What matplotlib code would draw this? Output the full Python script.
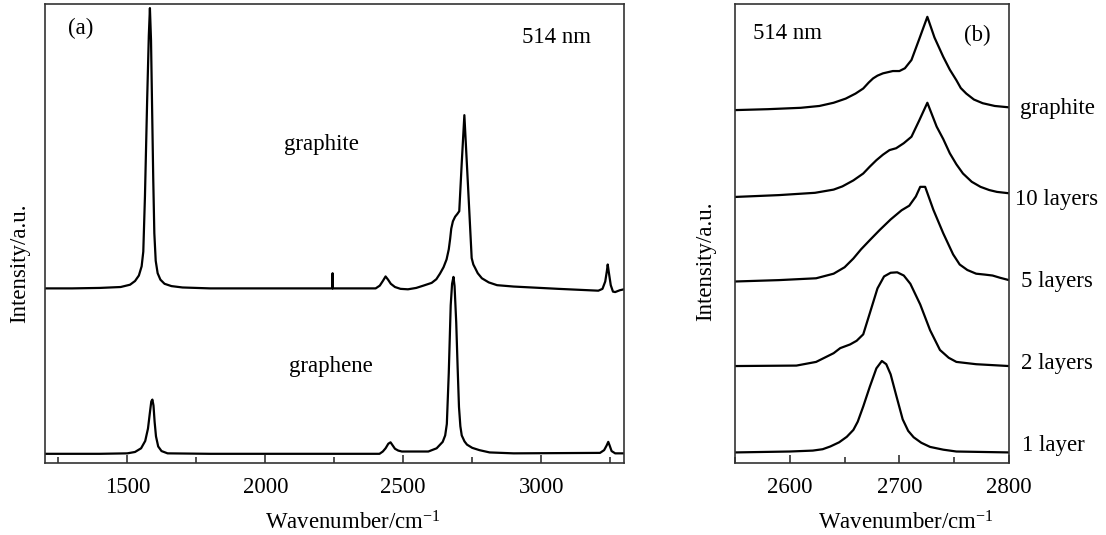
import matplotlib
matplotlib.use("Agg")
import matplotlib.pyplot as plt
from matplotlib.ticker import MultipleLocator

plt.rcParams['font.family'] = ['Liberation Serif', 'DejaVu Serif']
plt.rcParams['mathtext.fontset'] = 'custom'
plt.rcParams['mathtext.rm'] = 'Liberation Serif'
plt.rcParams['mathtext.it'] = 'Liberation Serif:italic'

# ---------------- Panel (a) data ----------------
graphite_a_x = [1200, 1300, 1400, 1476, 1510, 1528, 1542, 1552, 1558, 1564, 1572, 1578, 1582,
                1586, 1590, 1594, 1598, 1603, 1610, 1620, 1635, 1660, 1700, 1800, 2000,
                2243.5, 2244, 2244.5, 2400, 2415, 2427, 2436, 2445, 2455, 2470, 2490, 2517,
                2547, 2573, 2603, 2620, 2633, 2646, 2657, 2665, 2670, 2674, 2680, 2688, 2696,
                2703, 2712, 2721.5, 2735, 2748, 2754, 2760, 2770, 2785, 2810, 2840, 2900,
                3062, 3207, 3222, 3232, 3238, 3241, 3245, 3252, 3260, 3268, 3285, 3300]
graphite_a_y = [38.0, 38.0, 38.1, 38.3, 38.8, 39.6, 40.8, 42.8, 46.0, 58.0, 79.0, 93.0, 99.0,
                92.0, 77.0, 62.0, 50.0, 44.0, 41.3, 39.9, 39.0, 38.5, 38.2, 38.0, 38.0,
                38.0, 41.3, 38.0, 38.0, 38.6, 39.7, 40.6, 39.9, 39.0, 38.3, 37.9, 37.8,
                38.1, 38.6, 39.2, 40.0, 41.2, 42.6, 44.3, 46.5, 48.8, 51.0, 52.6, 53.6, 54.2,
                54.8, 65.3, 75.7, 60.0, 44.6, 43.2, 42.5, 41.3, 40.2, 39.3, 38.7, 38.4,
                37.9, 37.5, 37.9, 39.5, 41.8, 43.2, 41.5, 38.7, 37.3, 37.2, 37.6, 37.8]

graphene_a_x = [1200, 1400, 1500, 1528, 1550, 1565, 1575, 1582, 1587, 1591, 1595, 1599, 1604,
                1612, 1624, 1646, 1800, 2414, 2426, 2436, 2446, 2454, 2462, 2470, 2482, 2495,
                2591, 2621, 2643, 2652, 2658, 2665, 2672, 2677, 2682, 2686, 2692, 2697, 2702,
                2707, 2712, 2722, 2731, 2750, 2776, 2813, 2900, 3213, 3228, 3237, 3243, 3248,
                3255, 3268, 3300]
graphene_a_y = [2.0, 2.0, 2.1, 2.4, 3.2, 4.8, 7.5, 11.0, 13.4, 13.8, 12.5, 9.0, 5.8,
                3.6, 2.6, 2.1, 2.0, 2.0, 2.5, 3.2, 4.2, 4.5, 3.8, 3.1, 2.7, 2.5,
                2.5, 3.2, 4.6, 6.0, 8.5, 19.6, 34.3, 39.0, 40.5, 38.5, 30.6, 21.0, 12.2,
                8.0, 6.0, 4.7, 4.0, 3.3, 2.8, 2.3, 2.1, 2.2, 2.8, 3.8, 4.6, 3.8,
                2.6, 2.1, 2.1]

# ---------------- Panel (b) data ----------------
graphite_b_x = [2550, 2580, 2610, 2627, 2640, 2651, 2660, 2667, 2672, 2676, 2680, 2685, 2694,
                2700, 2705, 2711, 2718, 2725.5, 2732, 2740, 2746, 2752, 2756, 2761, 2768,
                2776, 2787, 2800]
graphite_b_y = [76.8, 77.0, 77.3, 77.7, 78.4, 79.3, 80.4, 81.5, 82.8, 83.7, 84.3, 84.8, 85.3,
                85.3, 85.9, 87.7, 92.2, 97.1, 92.6, 88.4, 85.6, 83.3, 81.6, 80.4, 79.1,
                78.3, 77.7, 77.4]

layers10_b_x = [2550, 2590, 2623, 2640, 2648, 2658, 2667, 2673, 2679, 2685, 2691, 2697, 2704,
                2711, 2718, 2725.5, 2734, 2740, 2746, 2752, 2758, 2766, 2774, 2782, 2789, 2800]
layers10_b_y = [57.9, 58.3, 58.8, 59.5, 60.2, 61.5, 63.0, 64.5, 65.9, 67.1, 68.1, 68.5, 69.6,
                71.0, 74.5, 78.4, 73.2, 70.5, 67.4, 65.0, 63.0, 61.2, 60.1, 59.4, 59.0, 58.7]

layers5_b_x = [2550, 2590, 2624, 2640, 2650, 2658, 2665, 2673, 2682, 2692, 2702, 2709, 2715,
               2719, 2723.5, 2731, 2740, 2749, 2755, 2762, 2770, 2778, 2785, 2792, 2800]
layers5_b_y = [39.5, 39.8, 40.2, 41.2, 42.6, 44.5, 46.5, 48.5, 50.7, 53.0, 55.0, 56.0, 58.0,
               60.1, 60.1, 55.1, 50.0, 45.4, 43.2, 42.0, 41.2, 41.0, 40.8, 40.3, 39.8]

layers2_b_x = [2550, 2606, 2624, 2640, 2646, 2655, 2661, 2667, 2673, 2680, 2686, 2692, 2698,
               2704, 2710, 2715, 2719, 2728, 2737, 2745, 2752, 2770, 2800]
layers2_b_y = [21.1, 21.2, 22.0, 23.9, 25.0, 25.8, 26.6, 28.0, 32.6, 38.0, 40.6, 41.4, 41.5,
               40.8, 39.0, 36.5, 34.5, 28.9, 24.6, 22.9, 22.0, 21.5, 21.1]

layer1_b_x = [2550, 2600, 2621, 2630, 2637, 2645, 2652, 2658, 2662, 2667, 2673, 2679, 2684,
              2688, 2692, 2697, 2703, 2708, 2713, 2720, 2728, 2740, 2752, 2800]
layer1_b_y = [2.3, 2.5, 2.7, 3.0, 3.6, 4.5, 5.7, 7.2, 9.0, 12.3, 16.6, 20.6, 22.2,
              21.5, 19.3, 14.8, 9.5, 7.0, 5.6, 4.4, 3.5, 2.9, 2.5, 2.3]

labels_b = ["graphite", "10 layers", "5 layers", "2 layers", "1 layer"]

W, H = 1106, 535
fig = plt.figure(figsize=(W / 100, H / 100), dpi=100)

spine_c = '#333333'
line_kw = dict(color='black', lw=1.6, solid_joinstyle='round')
fs = 16.5


def style(ax):
    for s in ax.spines.values():
        s.set_color(spine_c)
        s.set_linewidth(1.2)
    ax.tick_params(axis='x', which='both', direction='in', top=False, bottom=True,
                   color=spine_c, width=1.2, labelsize=fs, pad=10)
    ax.tick_params(axis='x', which='major', length=6)
    ax.tick_params(axis='x', which='minor', length=4)
    ax.tick_params(axis='y', which='both', left=False, right=False, labelleft=False)


# Panel (a)
axa = fig.add_axes([44.5 / W, (H - 463) / H, 579.5 / W, 459.5 / H])
axa.plot(graphite_a_x, graphite_a_y, **line_kw)
axa.plot(graphene_a_x, graphene_a_y, **line_kw)
axa.set_xlim(1200, 3300)
axa.set_ylim(0, 100)
axa.xaxis.set_major_locator(MultipleLocator(500))
axa.xaxis.set_minor_locator(MultipleLocator(250))
style(axa)
axa.set_xlabel(r'Wavenumber/cm$^{-1}$', fontsize=fs)
axa.xaxis.set_label_coords(0.532, -0.105)
axa.set_ylabel('Intensity/a.u.', fontsize=fs)
axa.yaxis.set_label_coords(-0.024, 0.435)
axa.text(0.063, 0.945, '(a)', transform=axa.transAxes, fontsize=fs, ha='center', va='center')
axa.text(0.884, 0.925, '514 nm', transform=axa.transAxes, fontsize=fs, ha='center', va='center')
axa.text(0.478, 0.694, 'graphite', transform=axa.transAxes, fontsize=fs, ha='center', va='center')
axa.text(0.495, 0.211, 'graphene', transform=axa.transAxes, fontsize=fs, ha='center', va='center')

# Panel (b)
axb = fig.add_axes([735 / W, (H - 463) / H, 274 / W, 459.5 / H])
curves_b = [(graphite_b_x, graphite_b_y), (layers10_b_x, layers10_b_y),
            (layers5_b_x, layers5_b_y), (layers2_b_x, layers2_b_y), (layer1_b_x, layer1_b_y)]
for cx, cy in curves_b:
    axb.plot(cx, cy, **line_kw)
axb.set_xlim(2550, 2800)
axb.set_ylim(0, 100)
axb.xaxis.set_major_locator(MultipleLocator(100))
axb.xaxis.set_minor_locator(MultipleLocator(50))
style(axb)
axb.set_xlabel(r'Wavenumber/cm$^{-1}$', fontsize=fs)
axb.xaxis.set_label_coords(0.625, -0.105)
axb.set_ylabel('Intensity/a.u.', fontsize=fs)
axb.yaxis.set_label_coords(-0.067, 0.44)
axb.text(0.19, 0.935, '514 nm', transform=axb.transAxes, fontsize=fs, ha='center', va='center')
axb.text(0.885, 0.93, '(b)', transform=axb.transAxes, fontsize=fs, ha='center', va='center')
label_pos_y = [108.3, 200, 281.7, 363.3, 445]
label_pos_x = [1057, 1057, 1057, 1057, 1053]
for lab, px, py in zip(labels_b, label_pos_x, label_pos_y):
    fig.text(px / W, 1 - py / H, lab, fontsize=fs, ha='center', va='center')

fig.savefig('out.png', dpi=100)
